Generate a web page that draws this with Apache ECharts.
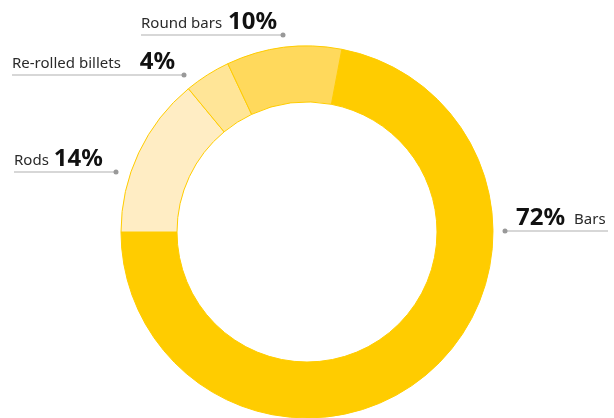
<!DOCTYPE html>
<html><head><meta charset="utf-8">
<script src="https://cdn.jsdelivr.net/npm/echarts@6/dist/echarts.min.js"></script>
<style>html,body{margin:0;padding:0;background:#fff}#c{width:614px;height:418px}</style>
</head><body><div id="c"></div>
<script>
const categories = ['Bars', 'Rods', 'Re-rolled billets', 'Round bars'];
const values = [72, 14, 4, 10];
const colors = ['#FFCC00', '#FFEDC4', '#FFE597', '#FFD95C'];
// label placement (layout only): side, text start x, line y, line start x, line end x, dot x, gap between name and value
const labelSide = ['right', 'left', 'left', 'left'];
const labelTextX = [516, 14, 12, 141];
const labelLineY = [231, 172, 75, 35];
const labelLineX1 = [505, 14, 12, 141];
const labelLineX2 = [608, 116, 184, 283];
const dotX = [505, 116, 184, 283];
const labelGap = [9, 5, 19, 6];

const chart = echarts.init(document.getElementById('c'), null, {renderer: 'canvas'});
const FONT = '"Noto Sans", sans-serif';
const rich = {
  pct: {fontSize: 24, fontWeight: 'bold', color: '#111', fontFamily: FONT, verticalAlign: 'bottom', lineHeight: 28},
  name: {fontSize: 15, color: '#2a2a2a', fontFamily: FONT, verticalAlign: 'bottom', lineHeight: 28, padding: [0, 0, 3, 0]}
};
labelGap.forEach((g, i) => { rich['g' + i] = {width: g, fontSize: 10, lineHeight: 28}; });

chart.setOption({
  animation: false,
  series: [{
    type: 'pie',
    center: [307, 232],
    radius: [130, 186],
    startAngle: 79.2,
    clockwise: true,
    avoidLabelOverlap: false,
    itemStyle: {borderColor: '#FFCC00', borderWidth: 1},
    emphasis: {disabled: true},
    data: categories.map((c, i) => ({name: c, value: values[i], itemStyle: {color: colors[i]}})),
    label: {
      show: true,
      position: 'outside',
      fontFamily: FONT,
      formatter: p => {
        const i = p.dataIndex;
        const gap = '{g' + i + '| }';
        return labelSide[i] === 'right'
          ? '{pct|' + p.value + '%}' + gap + '{name|' + p.name + '}'
          : '{name|' + p.name + '}' + gap + '{pct|' + p.value + '%}';
      },
      rich: rich
    },
    labelLine: {show: true, lineStyle: {color: '#b0b0b0', width: 1.2}},
    labelLayout: function (params) {
      const i = params.dataIndex;
      const y = labelLineY[i];
      return {
        x: labelTextX[i],
        y: y - 1,
        align: 'left',
        verticalAlign: 'bottom',
        labelLinePoints: [[labelLineX1[i], y], [labelLineX1[i], y], [labelLineX2[i], y]]
      };
    }
  }],
  graphic: dotX.map((x, i) => ({
    type: 'circle', shape: {cx: x, cy: labelLineY[i], r: 2.5}, style: {fill: '#999'}, z: 100
  }))
});
</script></body></html>
